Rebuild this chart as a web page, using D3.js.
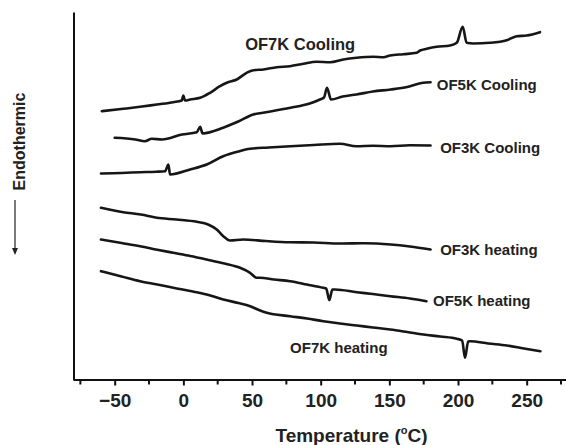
<!DOCTYPE html>
<html>
<head>
<meta charset="utf-8">
<script src="https://cdn.jsdelivr.net/npm/d3@7"></script>
<style>
  html, body { margin: 0; padding: 0; background: #fff; }
  svg { display: block; }
  text { font-family: "Liberation Sans", Arial, Helvetica, sans-serif; font-weight: bold; fill: #222; }
</style>
</head>
<body>
<svg id="chart" width="566" height="445"></svg>
<script>
// DSC traces: temperature (°C) vs. heat flow (a.u., stacked with offsets)
const of7kCoolingT = [-59.4, -43.7, -31.5, -19.4, -7.3, -1.2, 0, 1.2, 4.9, 12.2, 19.4, 26.7, 31.6, 38.9, 46.1, 51, 58.3, 68, 77.7, 87.4, 97.1, 106.8, 116.5, 126.2, 138.4, 145.7, 150.5, 160.2, 169.9, 172.4, 177.2, 184.5, 194.2, 199.1, 203.4, 206.3, 211.2, 223.3, 235.5, 242.7, 250, 259.7];
const of7kCoolingV = [26.83, 27.07, 27.27, 27.5, 27.73, 27.9, 28.4, 27.9, 28.0, 28.17, 28.67, 29.33, 29.67, 30.0, 30.67, 30.93, 31.0, 31.23, 31.33, 31.57, 31.77, 31.73, 32.0, 32.17, 32.27, 32.23, 32.4, 32.53, 32.67, 32.9, 33.07, 33.27, 33.4, 33.67, 35.27, 33.67, 33.6, 33.67, 33.93, 34.33, 34.4, 34.73];

const of5kCoolingT = [-50, -35, -28, -23, -15.5, -1, 9.8, 12.2, 14, 29, 40, 51, 58, 78, 92, 99.5, 102.4, 104.6, 107.5, 116, 126, 138, 151, 163, 174.5, 180];
const of5kCoolingV = [24.17, 24.0, 23.83, 24.07, 24.0, 24.5, 24.73, 25.27, 24.6, 25.17, 25.8, 26.5, 26.67, 27.17, 27.6, 28.0, 28.2, 29.17, 28.0, 28.3, 28.5, 28.8, 29.0, 29.25, 29.67, 29.73];

const of3kCoolingT = [-60, -45, -31.5, -20, -13.3, -10.9, -9.7, 4.9, 17, 29, 40, 48.6, 62, 78, 95, 114, 126, 138, 151, 165, 180];
const of3kCoolingV = [20.6, 20.65, 20.73, 20.78, 20.83, 21.5, 20.5, 21.0, 21.5, 22.33, 22.8, 23.07, 23.2, 23.33, 23.45, 23.57, 23.33, 23.38, 23.33, 23.42, 23.4];

const of3kHeatingT = [-60, -43.7, -31, -19.4, -5, 9.8, 18, 24.3, 29.1, 34, 43.7, 60, 77.7, 95, 114, 132, 151, 165, 180];
const of3kHeatingV = [17.17, 16.73, 16.5, 16.17, 16.0, 15.77, 15.5, 15.0, 14.33, 13.9, 14.0, 13.85, 13.73, 13.7, 13.6, 13.62, 13.5, 13.3, 13.0];

const of5kHeatingT = [-60, -45, -31.5, -19, -7.3, 5, 17, 30, 41.3, 48.6, 53.4, 55.8, 66, 77.7, 90, 101.9, 104, 106.3, 108.5, 110.5, 126.3, 138, 150.6, 165, 177];
const of5kHeatingV = [14.0, 13.65, 13.33, 12.98, 12.67, 12.35, 12.0, 11.6, 11.17, 10.67, 10.17, 10.17, 10.0, 9.83, 9.5, 9.17, 9.1, 7.93, 9.0, 9.0, 8.73, 8.55, 8.33, 8.1, 7.83];

const of7kHeatingT = [-60, -45, -31.5, -19, -7.3, 5, 17, 29.1, 40, 48.6, 55, 60.7, 77.7, 90, 101.9, 114, 126.3, 138, 150.6, 163, 174.8, 187, 199.1, 203, 205.1, 207.4, 208.8, 222, 235.5, 248, 260];
const of7kHeatingV = [10.83, 10.3, 9.83, 9.5, 9.17, 8.85, 8.5, 8.0, 7.65, 7.33, 6.95, 6.67, 6.33, 6.1, 5.83, 5.6, 5.4, 5.2, 5.0, 4.75, 4.5, 4.3, 4.07, 3.9, 2.17, 3.8, 3.83, 3.6, 3.4, 3.1, 2.83];

const majorTicks = [-50, 0, 50, 100, 150, 200, 250];
const minorTicks = [-75, -25, 25, 75, 125, 175, 225, 275];

const series = [
  { name: "OF7K Cooling", t: of7kCoolingT, v: of7kCoolingV },
  { name: "OF5K Cooling", t: of5kCoolingT, v: of5kCoolingV },
  { name: "OF3K Cooling", t: of3kCoolingT, v: of3kCoolingV },
  { name: "OF3K heating", t: of3kHeatingT, v: of3kHeatingV },
  { name: "OF5K heating", t: of5kHeatingT, v: of5kHeatingV },
  { name: "OF7K heating", t: of7kHeatingT, v: of7kHeatingV }
];

// Curve labels: anchored in data space (temperature, heat flow)
const labels = [
  { text: "OF7K Cooling", t: 45, v: 32.95, size: 16.5 },
  { text: "OF5K Cooling", t: 184.5, v: 29.0, size: 15 },
  { text: "OF3K Cooling", t: 187, v: 22.7, size: 15 },
  { text: "OF3K heating", t: 187, v: 12.5, size: 15 },
  { text: "OF5K heating", t: 181.8, v: 7.35, size: 15 },
  { text: "OF7K heating", t: 77.7, v: 2.7, size: 15 }
];

const svg = d3.select("#chart");
const x = d3.scaleLinear().domain([-80, 279]).range([73.5, 566.5]);
const y = d3.scaleLinear().domain([0, 36.7]).range([379.5, 12.5]);

// Bottom axis with major ticks
const xAxis = d3.axisBottom(x).tickValues(majorTicks).tickSize(6).tickPadding(8).tickSizeOuter(0);
const gx = svg.append("g").attr("transform", `translate(0,${y(0)})`).call(xAxis);
gx.select(".domain").attr("stroke", "#111").attr("stroke-width", 2);
gx.selectAll(".tick line").attr("stroke", "#111").attr("stroke-width", 2);
gx.selectAll(".tick text").attr("font-size", 19).attr("fill", "#222")
  .attr("font-family", "Liberation Sans, Arial, sans-serif").attr("font-weight", "bold");

// Minor ticks
svg.append("g").selectAll("line").data(minorTicks).join("line")
  .attr("x1", d => x(d)).attr("x2", d => x(d))
  .attr("y1", y(0)).attr("y2", y(0) + 5)
  .attr("stroke", "#111").attr("stroke-width", 2);

// Left axis line (no ticks)
svg.append("line")
  .attr("x1", x(-80) + 0.5).attr("x2", x(-80) + 0.5)
  .attr("y1", y(36.7)).attr("y2", y(0) + 1)
  .attr("stroke", "#111").attr("stroke-width", 2);

// Traces
const line = d3.line().curve(d3.curveMonotoneX).x(d => x(d[0])).y(d => y(d[1]));
svg.append("g").selectAll("path").data(series).join("path")
  .attr("d", s => line(s.t.map((t, i) => [t, s.v[i]])))
  .attr("fill", "none").attr("stroke", "#161616").attr("stroke-width", 2.6)
  .attr("stroke-linejoin", "round").attr("stroke-linecap", "round");

// Curve labels
svg.append("g").selectAll("text").data(labels).join("text")
  .attr("x", d => x(d.t)).attr("y", d => y(d.v))
  .attr("font-size", d => d.size)
  .text(d => d.text);

// X axis title
const title = svg.append("text").attr("x", 351.5).attr("y", 441.5)
  .attr("text-anchor", "middle").attr("font-size", 19);
title.append("tspan").text("Temperature (");
title.append("tspan").attr("font-size", 11).attr("dy", -8).text("o");
title.append("tspan").attr("dy", 8).text("C)");

// Y axis title with downward arrow
svg.append("text")
  .attr("transform", "translate(25,141.5) rotate(-90)")
  .attr("text-anchor", "middle").attr("font-size", 16)
  .text("Endothermic");
svg.append("line").attr("x1", 15).attr("x2", 15).attr("y1", 200).attr("y2", 250)
  .attr("stroke", "#222").attr("stroke-width", 1.2);
svg.append("path").attr("d", "M12,248 L18,248 L15,255 Z").attr("fill", "#222");
</script>
</body>
</html>
